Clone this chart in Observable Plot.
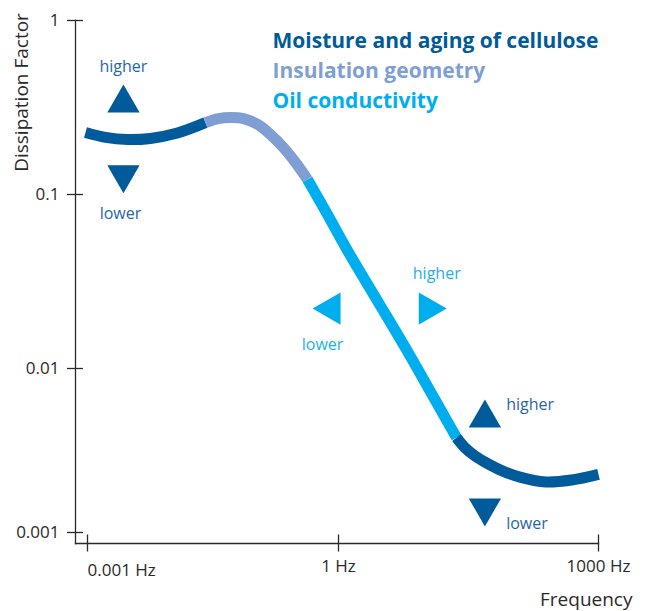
<!DOCTYPE html>
<html>
<head>
<meta charset="utf-8">
<script src="https://cdn.jsdelivr.net/npm/d3@7"></script>
<script src="https://cdn.jsdelivr.net/npm/@observablehq/plot@0.6"></script>
<style>
  body { margin: 0; background: #fff; }
  svg { display: block; }
</style>
</head>
<body>
<div id="chart"></div>
<script>
// ---- Data ----
const seriesNames = ["Moisture and aging of cellulose", "Insulation geometry", "Oil conductivity"];
const seriesColors = ["#005b9a", "#7f9fd4", "#00aeef"];
const labelColors = ["#1f67a8", "#7f9fd4", "#1cb0ec"];

const xTickValues = [0.001, 1, 1000];
const xTickLabels = ["0.001 Hz", "1 Hz", "1000 Hz"];
const yTickValues = [0.001, 0.01, 0.1, 1];
const yTickLabels = ["0.001", "0.01", "0.1", "1"];

// Curve segments (frequency in Hz, dissipation factor)
const moistureLowFreq = [0.000946, 0.00164, 0.00301, 0.00566, 0.01127, 0.0257];
const moistureLowDF   = [0.227, 0.213, 0.207, 0.210, 0.224, 0.259];
const geometryFreq = [0.0257, 0.0368, 0.0512, 0.0731, 0.1076, 0.154, 0.220, 0.306, 0.426];
const geometryDF   = [0.259, 0.273, 0.277, 0.273, 0.253, 0.221, 0.186, 0.153, 0.122];
const oilFreq = [0.426, 0.738, 1.268, 2.80, 6.17, 11.3, 23.0];
const oilDF   = [0.122, 0.0767, 0.0477, 0.0246, 0.01268, 0.00734, 0.00379];
const moistureHighFreq = [23.0, 29.2, 38.0, 50.8, 77.5, 121.3, 247, 491, 1000];
const moistureHighDF   = [0.00379, 0.003262, 0.002915, 0.002658, 0.002375, 0.002183, 0.002032, 0.002089, 0.00226];

// Arrow markers
const arrowFreq   = [0.00269, 0.00269, 0.818, 10.8, 48.9, 48.9];
const arrowDF     = [0.335, 0.130, 0.0221, 0.0221, 0.00498, 0.001416];
const arrowRotate = [0, 180, -90, 90, 0, 180];
const arrowSeries = [0, 0, 2, 2, 0, 0];

// higher / lower labels
const labelText   = ["higher", "lower", "lower", "higher", "higher", "lower"];
const labelFreq   = [0.00269, 0.00248, 0.644, 13.6, 86.1, 86.1];
const labelDF     = [0.544, 0.0778, 0.01374, 0.0352, 0.00603, 0.001127];
const labelSeries = [0, 0, 2, 2, 0, 0];
const labelStart  = [false, false, false, false, true, true];

// ---- Build tables ----
const segments = [
  {s: 0, f: moistureLowFreq, df: moistureLowDF},
  {s: 1, f: geometryFreq, df: geometryDF},
  {s: 2, f: oilFreq, df: oilDF},
  {s: 0, f: moistureHighFreq, df: moistureHighDF}
];
const curveRows = segments.flatMap((seg, k) =>
  seg.f.map((f, i) => ({seg: k, s: seg.s, f, df: seg.df[i]})));
const arrowRows = arrowFreq.map((f, i) => ({f, df: arrowDF[i], rot: arrowRotate[i], s: arrowSeries[i]}));
const labelRows = labelText.map((t, i) => ({t, f: labelFreq[i], df: labelDF[i], s: labelSeries[i], start: labelStart[i]}));

const axisColor = "#2a2a2a";

const chart = Plot.plot({
  width: 649,
  height: 611,
  marginTop: 20,
  marginBottom: 68,
  marginLeft: 75,
  marginRight: 51,
  style: {fontFamily: "'Open Sans', 'Noto Sans', sans-serif", background: "#fff", overflow: "visible"},
  x: {type: "log", domain: xTickValues, range: [87, 338, 598], axis: null},
  y: {type: "log", domain: yTickValues, range: [532, 368, 194, 20], axis: null},
  marks: [
    // axis lines
    Plot.frame({anchor: "left", stroke: axisColor, strokeWidth: 1.3}),
    Plot.frame({anchor: "bottom", stroke: axisColor, strokeWidth: 1.3}),
    // y axis
    Plot.axisY({ticks: yTickValues, tickSize: 16, dx: 8, tickPadding: 8, color: axisColor,
      strokeWidth: 1.3, fontSize: 17, label: null,
      tickFormat: d => yTickLabels[yTickValues.indexOf(d)]}),
    // x axis
    Plot.axisX({ticks: xTickValues.slice(0, 1), tickSize: 17, dy: -8.5, tickPadding: 12, textAnchor: "start",
      color: axisColor, strokeWidth: 1.3, fontSize: 17, label: null,
      tickFormat: d => xTickLabels[xTickValues.indexOf(d)]}),
    Plot.axisX({ticks: xTickValues.slice(1), tickSize: 17, dy: -8.5, tickPadding: 8,
      color: axisColor, strokeWidth: 1.3, fontSize: 17, label: null,
      tickFormat: d => xTickLabels[xTickValues.indexOf(d)]}),
    // axis titles
    Plot.text(["Dissipation Factor"], {frameAnchor: "top-left", textAnchor: "middle", lineAnchor: "middle",
      dx: -54, dy: 72, rotate: -90, fontSize: 19, fill: axisColor}),
    Plot.text(["Frequency"], {frameAnchor: "bottom-right", textAnchor: "end", lineAnchor: "middle",
      dx: 34, dy: 56, fontSize: 19, fill: axisColor}),
    // curve
    Plot.line(curveRows, {x: "f", y: "df", z: "seg", stroke: d => seriesColors[d.s],
      strokeWidth: 11, curve: "catmull-rom", strokeLinecap: "butt", strokeLinejoin: "round"}),
    // arrows
    Plot.dot(arrowRows, {x: "f", y: "df", symbol: "triangle", r: 12, rotate: "rot",
      fill: d => seriesColors[d.s], stroke: null}),
    // higher / lower labels
    Plot.text(labelRows.filter(d => !d.start), {x: "f", y: "df", text: "t", fontSize: 16,
      fill: d => labelColors[d.s]}),
    Plot.text(labelRows.filter(d => d.start), {x: "f", y: "df", text: "t", fontSize: 16, textAnchor: "start",
      fill: d => labelColors[d.s]}),
    // legend (coloured text)
    ...seriesNames.map((name, i) => Plot.text([name], {frameAnchor: "top-left", dx: 197, dy: 21.2 + i * 30,
      textAnchor: "start", lineAnchor: "middle", fontSize: 21, fontWeight: "bold", fill: seriesColors[i]}))
  ]
});
document.getElementById("chart").appendChild(chart);
</script>
</body>
</html>
